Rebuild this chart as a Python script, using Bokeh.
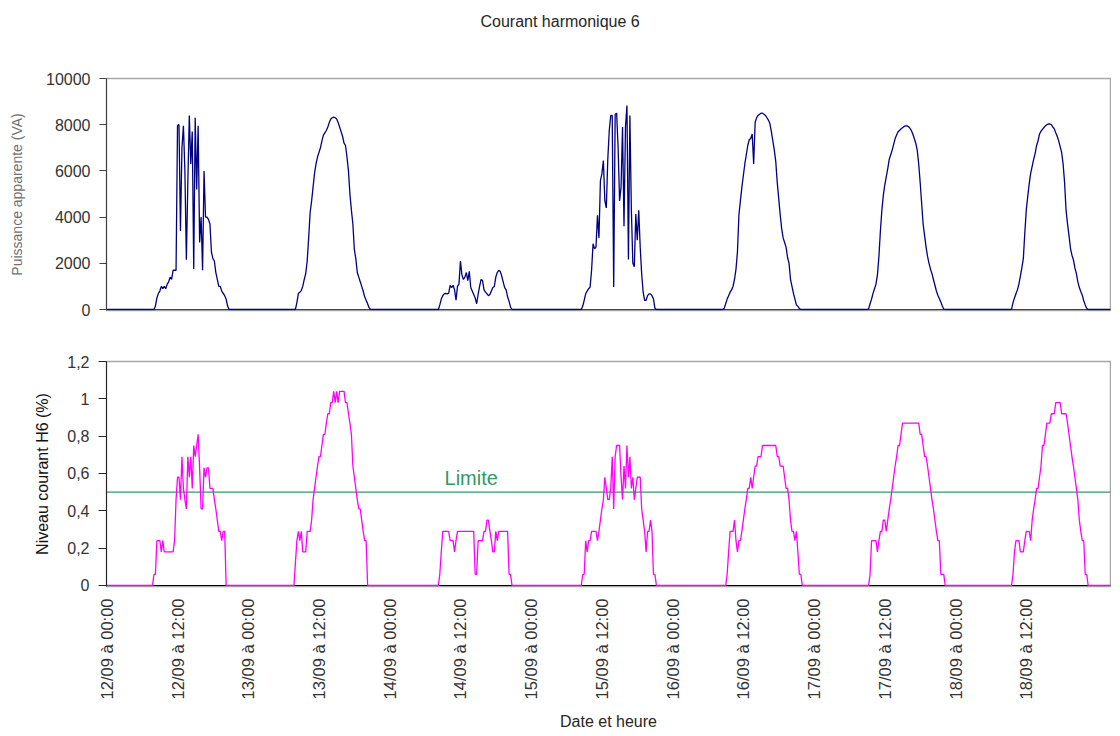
import math
from bokeh.plotting import figure
from bokeh.layouts import column
from bokeh.models import Range1d, FixedTicker, Span, Label, Title
from bokeh.embed import file_html
from bokeh.resources import INLINE

# ---------------- data ----------------
days = ["12/09", "13/09", "14/09", "15/09", "16/09", "17/09", "18/09"]
first_sample_hour = 7.75   # 07:45 each day
step_hours = 0.25          # 15 min sampling

power_1209 = [0, 0, 150, 500, 700, 800, 1000, 900, 1000, 900, 1100, 1200, 1400, 1300, 1700, 1700, 1700,
              7970, 8000, 3400, 7000, 7950, 6000, 2150, 5500, 8400, 6300, 7700, 1750, 8300, 5200, 7950,
              2900, 4000, 1700, 6000, 4000, 4000, 3900, 3700, 2500, 2200, 2100, 1600, 1300, 1000, 1000,
              800, 700, 600, 450, 150, 0]
power_1309 = [0, 0, 300, 690, 750, 820, 1000, 1300, 1550, 2100, 3100, 4200, 4700, 5300, 5900, 6300, 6600,
              6800, 7000, 7300, 7550, 7650, 7750, 7900, 8100, 8250, 8300, 8330, 8300, 8250, 8100, 7900,
              7700, 7500, 7200, 7100, 6600, 6000, 5000, 4300, 3700, 2600, 2200, 1600, 1400, 1200, 1000,
              800, 550, 400, 250, 80, 0]
power_1409 = [0, 0, 0, 200, 450, 600, 680, 700, 680, 700, 1050, 950, 1050, 850, 400, 1000, 1100, 2100,
              1500, 1300, 1400, 1600, 1250, 1650, 950, 800, 650, 500, 250, 650, 1000, 1300, 1250, 850,
              750, 680, 600, 650, 800, 950, 1000, 1400, 1600, 1700, 1650, 1450, 1200, 950, 850, 550,
              350, 100, 0]
power_1509 = [0, 0, 0, 0, 150, 400, 680, 800, 900, 970, 1700, 2850, 2630, 2700, 4080, 3100, 5580, 5870,
              6450, 4700, 4400, 6500, 7750, 8400, 8400, 970, 8450, 8500, 7000, 4700, 5300, 7900, 3600,
              7900, 8830, 2160, 8400, 4300, 2000, 1850, 4130, 3000, 4300, 2700, 1540, 750, 400, 400,
              600, 680, 680, 600, 450, 50, 0]
power_1609 = [0, 0, 0, 0, 50, 250, 450, 600, 750, 850, 1000, 1300, 1750, 2500, 4100, 4700, 5300, 5800,
              6300, 6700, 7100, 7350, 7400, 7600, 6300, 8100, 8300, 8400, 8450, 8500, 8500, 8450, 8400,
              8300, 8200, 8050, 7700, 7300, 6900, 6400, 5500, 4800, 4100, 3500, 3100, 2900, 2700, 2250,
              2000, 1300, 1000, 700, 450, 200, 140, 40, 0]
power_1709 = [0, 0, 0, 0, 0, 0, 30, 250, 450, 700, 900, 1100, 1500, 2300, 3400, 4300, 4950, 5400, 5750,
              6100, 6500, 6700, 6900, 7150, 7400, 7550, 7700, 7750, 7820, 7870, 7920, 7950, 7950, 7920,
              7850, 7750, 7600, 7400, 7200, 6900, 6300, 5500, 4600, 3700, 3200, 2700, 2300, 2000, 1750,
              1550, 1300, 1050, 800, 620, 480, 330, 150, 20, 0]
power_1809 = [0, 0, 0, 0, 0, 0, 0, 10, 300, 500, 680, 850, 1100, 1450, 1800, 2200, 3300, 4300, 4900,
              5450, 5900, 6200, 6500, 6750, 7100, 7300, 7600, 7720, 7800, 7880, 7950, 8000, 8030, 8030,
              8000, 7900, 7820, 7650, 7500, 7300, 7050, 6800, 6300, 5500, 4300, 3700, 3200, 2650, 2350,
              2150, 1800, 1550, 1200, 950, 780, 620, 380, 200, 50, 0]

h6_1209 = [0, 0.06, 0.06, 0.24, 0.24, 0.24, 0.18, 0.24, 0.18, 0.18, 0.18, 0.18, 0.18, 0.18, 0.18, 0.24,
           0.46, 0.58, 0.58, 0.46, 0.69, 0.52, 0.46, 0.41, 0.69, 0.58, 0.69, 0.52, 0.75, 0.69, 0.75, 0.81,
           0.63, 0.41, 0.41, 0.63, 0.58, 0.63, 0.63, 0.52, 0.52, 0.52, 0.46, 0.41, 0.35, 0.29, 0.29, 0.24,
           0.29, 0.29, 0, 0]
h6_1309 = [0, 0.12, 0.24, 0.29, 0.24, 0.29, 0.18, 0.18, 0.18, 0.29, 0.29, 0.29, 0.35, 0.46, 0.52, 0.58,
           0.64, 0.69, 0.69, 0.75, 0.81, 0.81, 0.87, 0.92, 0.92, 0.98, 0.98, 1.04, 0.98, 1.04, 0.98, 1.04,
           1.04, 1.04, 1.04, 0.98, 0.98, 0.92, 0.87, 0.81, 0.64, 0.58, 0.52, 0.46, 0.41, 0.41, 0.35, 0.29,
           0.24, 0.24, 0, 0]
h6_1409 = [0, 0, 0, 0.06, 0.18, 0.29, 0.29, 0.29, 0.29, 0.29, 0.24, 0.24, 0.24, 0.18, 0.24, 0.29, 0.29,
           0.29, 0.29, 0.29, 0.29, 0.29, 0.29, 0.29, 0.29, 0.29, 0.29, 0.06, 0.06, 0.24, 0.24, 0.24, 0.24,
           0.29, 0.29, 0.35, 0.35, 0.29, 0.24, 0.18, 0.18, 0.29, 0.24, 0.29, 0.29, 0.29, 0.29, 0.29, 0.29,
           0.29, 0.06, 0.06, 0]
h6_1509 = [0, 0, 0, 0, 0.06, 0.06, 0.24, 0.18, 0.24, 0.24, 0.29, 0.29, 0.29, 0.29, 0.24, 0.29, 0.35,
           0.41, 0.46, 0.58, 0.52, 0.46, 0.46, 0.52, 0.69, 0.41, 0.69, 0.75, 0.75, 0.75, 0.58, 0.46, 0.64,
           0.52, 0.75, 0.58, 0.69, 0.52, 0.58, 0.46, 0.52, 0.58, 0.58, 0.58, 0.41, 0.35, 0.29, 0.18, 0.29,
           0.29, 0.35, 0.29, 0.06, 0.06, 0]
h6_1609 = [0, 0, 0, 0, 0, 0, 0.06, 0.18, 0.29, 0.29, 0.29, 0.35, 0.24, 0.18, 0.24, 0.24, 0.29, 0.35,
           0.41, 0.46, 0.52, 0.52, 0.58, 0.52, 0.58, 0.64, 0.64, 0.69, 0.69, 0.69, 0.75, 0.75, 0.75, 0.75,
           0.75, 0.75, 0.75, 0.75, 0.75, 0.75, 0.69, 0.69, 0.64, 0.64, 0.64, 0.58, 0.52, 0.52, 0.46, 0.35,
           0.29, 0.29, 0.24, 0.29, 0.18, 0.06, 0.06, 0]
h6_1709 = [0, 0, 0, 0, 0, 0, 0, 0.06, 0.24, 0.24, 0.24, 0.24, 0.18, 0.24, 0.29, 0.29, 0.35, 0.35, 0.29,
           0.35, 0.41, 0.46, 0.52, 0.58, 0.64, 0.69, 0.75, 0.75, 0.81, 0.87, 0.87, 0.87, 0.87, 0.87, 0.87,
           0.87, 0.87, 0.87, 0.87, 0.87, 0.87, 0.81, 0.81, 0.75, 0.69, 0.69, 0.64, 0.58, 0.52, 0.46, 0.41,
           0.35, 0.29, 0.24, 0.24, 0.06, 0.06, 0.06, 0]
h6_1809 = [0, 0, 0, 0, 0, 0, 0, 0, 0.06, 0.18, 0.24, 0.24, 0.24, 0.18, 0.18, 0.18, 0.24, 0.29, 0.29,
           0.29, 0.24, 0.35, 0.41, 0.46, 0.52, 0.52, 0.58, 0.64, 0.75, 0.75, 0.81, 0.87, 0.87, 0.87, 0.92,
           0.92, 0.92, 0.98, 0.98, 0.98, 0.98, 0.92, 0.92, 0.92, 0.92, 0.87, 0.81, 0.75, 0.69, 0.64, 0.58,
           0.52, 0.46, 0.35, 0.29, 0.24, 0.24, 0.06, 0.06, 0]

power_days = [power_1209, power_1309, power_1409, power_1509, power_1609, power_1709, power_1809]
h6_days = [h6_1209, h6_1309, h6_1409, h6_1509, h6_1609, h6_1709, h6_1809]

tick_hours = [12 * i for i in range(14)]
tick_labels = ["12/09 à 00:00", "12/09 à 12:00", "13/09 à 00:00", "13/09 à 12:00",
               "14/09 à 00:00", "14/09 à 12:00", "15/09 à 00:00", "15/09 à 12:00",
               "16/09 à 00:00", "16/09 à 12:00", "17/09 à 00:00", "17/09 à 12:00",
               "18/09 à 00:00", "18/09 à 12:00"]
y1_ticks = [0, 2000, 4000, 6000, 8000, 10000]
y2_ticks = [0, 0.2, 0.4, 0.6, 0.8, 1, 1.2]
y2_tick_labels = ["0", "0,2", "0,4", "0,6", "0,8", "1", "1,2"]
limit_level = 0.5
x_start, x_end = -0.05, 170.29   # hours from 12/09 00:00


def build(series_list):
    xs, ys = [x_start], [0]
    for d, vals in enumerate(series_list):
        for k, v in enumerate(vals):
            xs.append(24 * d + first_sample_hour + step_hours * k)
            ys.append(v)
    xs.append(x_end)
    ys.append(0)
    return xs, ys


FONT = "Liberation Sans"
x_range = Range1d(x_start, x_end)

# ---------------- top figure ----------------
p1 = figure(frame_width=1004, frame_height=232, x_range=x_range, y_range=Range1d(-43, 10000),
            output_backend="svg", toolbar_location=None,
            min_border_left=106, min_border_right=1, min_border_top=78, min_border_bottom=19)
p1.title.text = ""
# spacer between frame and chart title, then the chart title itself
p1.add_layout(Title(text=" ", text_font=FONT, text_font_size="16px", standoff=30), "above")
p1.add_layout(Title(text="Courant harmonique 6", text_font=FONT, text_font_size="16px",
                    text_font_style="normal", text_color="#262626", align="left", offset=374,
                    standoff=0), "above")
p1.grid.visible = False
p1.outline_line_color = "#a6a6a6"
p1.outline_line_width = 1.5
p1.background_fill_color = "white"
p1.border_fill_color = "white"

p1.xaxis.ticker = FixedTicker(ticks=[])
p1.xaxis.axis_line_color = None
p1.xaxis.major_tick_line_color = None
p1.xaxis.minor_tick_line_color = None
p1.xaxis.major_label_text_font_size = "0px"

p1.yaxis.ticker = FixedTicker(ticks=y1_ticks)
p1.yaxis.axis_line_color = "#404040"
p1.yaxis.major_tick_line_color = "#404040"
p1.yaxis.minor_tick_line_color = None
p1.yaxis.major_tick_out = 7
p1.yaxis.major_tick_in = 0
p1.yaxis.major_label_standoff = 9
p1.yaxis.major_label_text_font = FONT
p1.yaxis.major_label_text_font_size = "16px"
p1.yaxis.major_label_text_color = "#333333"
p1.yaxis.axis_label = "Puissance apparente (VA)"
p1.yaxis.axis_label_text_font = FONT
p1.yaxis.axis_label_text_font_size = "14px"
p1.yaxis.axis_label_text_font_style = "normal"
p1.yaxis.axis_label_text_color = "#6e6e6e"
p1.yaxis.axis_label_standoff = 18

p1.add_layout(Span(location=0, dimension="width", line_color="#404040", line_width=1, level="underlay"))
px, py = build(power_days)
p1.line(px, py, line_color="#000080", line_width=1.3)

# ---------------- bottom figure ----------------
p2 = figure(frame_width=1004, frame_height=225, x_range=x_range, y_range=Range1d(-0.0054, 1.2),
            output_backend="svg", toolbar_location=None,
            min_border_left=106, min_border_right=1, min_border_top=32, min_border_bottom=146)
p2.grid.visible = False
p2.outline_line_color = "#a6a6a6"
p2.outline_line_width = 1.5

p2.yaxis.ticker = FixedTicker(ticks=y2_ticks)
p2.yaxis.major_label_overrides = dict(zip(y2_ticks, y2_tick_labels))
p2.yaxis.axis_line_color = "#262626"
p2.yaxis.major_tick_line_color = "#262626"
p2.yaxis.minor_tick_line_color = None
p2.yaxis.major_tick_out = 8
p2.yaxis.major_tick_in = 0
p2.yaxis.major_label_standoff = 9
p2.yaxis.major_label_text_font = FONT
p2.yaxis.major_label_text_font_size = "16px"
p2.yaxis.major_label_text_color = "#333333"
p2.yaxis.axis_label = "Niveau courant H6 (%)"
p2.yaxis.axis_label_text_font = FONT
p2.yaxis.axis_label_text_font_size = "16px"
p2.yaxis.axis_label_text_font_style = "normal"
p2.yaxis.axis_label_text_color = "#111111"
p2.yaxis.axis_label_standoff = 13

p2.xaxis.ticker = FixedTicker(ticks=tick_hours)
p2.xaxis.major_label_overrides = dict(zip(tick_hours, tick_labels))
p2.xaxis.major_label_orientation = math.pi / 2
p2.xaxis.axis_line_color = None
p2.xaxis.major_tick_line_color = None
p2.xaxis.minor_tick_line_color = None
p2.xaxis.major_tick_out = 0
p2.xaxis.major_label_standoff = 12
p2.xaxis.major_label_text_font = FONT
p2.xaxis.major_label_text_font_size = "16.5px"
p2.xaxis.major_label_text_color = "#333333"
p2.xaxis.axis_label = "Date et heure"
p2.xaxis.axis_label_text_font = FONT
p2.xaxis.axis_label_text_font_size = "16px"
p2.xaxis.axis_label_text_font_style = "normal"
p2.xaxis.axis_label_text_color = "#262626"
p2.xaxis.axis_label_standoff = 11

p2.add_layout(Span(location=0, dimension="width", line_color="#000000", line_width=1, level="underlay"))
p2.add_layout(Span(location=limit_level, dimension="width", line_color="#339966", line_width=1.2,
                   level="underlay"))
p2.add_layout(Label(x=57.3, y=limit_level, y_offset=3, text="Limite", text_baseline="bottom",
                    text_font=FONT, text_font_size="20px", text_color="#339966"))
hx, hy = build(h6_days)
p2.line(hx, hy, line_color="#ff00ff", line_width=1.3)

layout = column(p1, p2, spacing=0)
open("out.html", "w").write(file_html(layout, INLINE, title="Courant harmonique 6"))
